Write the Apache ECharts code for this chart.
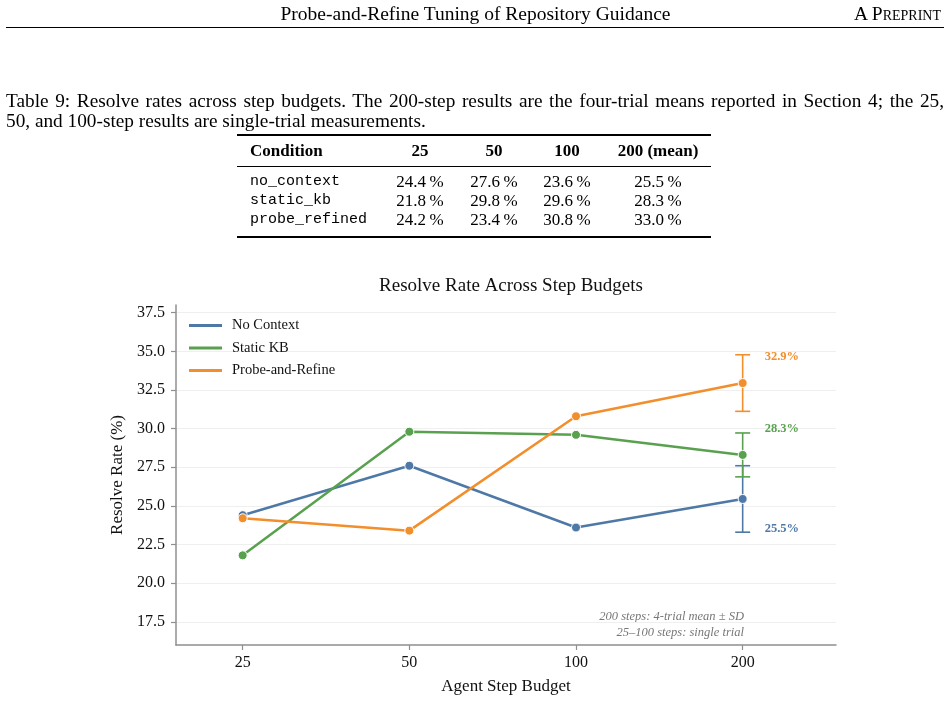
<!DOCTYPE html>
<html>
<head>
<meta charset="utf-8">
<title>Resolve Rate Across Step Budgets</title>
<script src="https://cdn.jsdelivr.net/npm/echarts@6/dist/echarts.min.js"></script>
<style>
  body { margin: 0; width: 951px; height: 702px; position: relative; background: #fff;
         font-family: "Liberation Serif", serif; color: #000; overflow: hidden; }
  #chart { position: absolute; left: 0; top: 0; width: 951px; height: 702px; }
  .runhead { position: absolute; top: 3px; left: 0; width: 951px; text-align: center; font-size: 19.5px; line-height: 22px; }
  .preprint { position: absolute; top: 3px; right: 10px; font-size: 19.5px; line-height: 22px; font-variant: small-caps; }
  .headrule { position: absolute; top: 27px; left: 6px; width: 938px; height: 1px; background: #000; }
  .capline { position: absolute; left: 6px; width: 938px; font-size: 19.3px; line-height: 21px; white-space: nowrap; }
  .capline.just { text-align: justify; text-align-last: justify; white-space: normal; }
  .rule { position: absolute; left: 237px; width: 474px; background: #000; }
  .cell { position: absolute; font-size: 17px; line-height: 20px; white-space: nowrap; }
  .mono { font-family: "Liberation Mono", monospace; font-size: 15px; }
</style>
</head>
<body>
<div id="chart"></div>
<div class="runhead">Probe-and-Refine Tuning of Repository Guidance</div>
<div class="preprint">A Preprint</div>
<div class="headrule"></div>
<div class="capline just" style="top:90px">Table 9: Resolve rates across step budgets. The 200-step results are the four-trial means reported in Section 4; the 25,</div>
<div class="capline" style="top:110px">50, and 100-step results are single-trial measurements.</div>
<div id="table"></div>
<script>
// x categories (agent step budgets)
const budgets = ['25', '50', '100', '200'];
const seriesNames = ['No Context', 'Static KB', 'Probe-and-Refine'];
const colors = ['#4e79a7', '#59a14f', '#f28e2b'];

// values (200 = four-trial mean)
const noContext = [24.4, 27.6, 23.6, 25.45];
const staticKb = [21.8, 29.8, 29.6, 28.3];
const probeRefine = [24.2, 23.4, 30.8, 32.95];
// standard deviation at 200 steps
const sd200 = [2.15, 1.42, 1.83];
const label200 = ['25.5%', '28.3%', '32.9%'];

const yTicks = [17.5, 20.0, 22.5, 25.0, 27.5, 30.0, 32.5, 35.0, 37.5];

// Table 9
const tableHead = ['Condition', '25', '50', '100', '200 (mean)'];
const tableConds = ['no_context', 'static_kb', 'probe_refined'];
const tableNoContext = [24.4, 27.6, 23.6, 25.5];
const tableStaticKb = [21.8, 29.8, 29.6, 28.3];
const tableProbeRefined = [24.2, 23.4, 30.8, 33.0];

// ---- table ----
(function buildTable() {
  const box = document.getElementById('table');
  const colCenters = [420, 494, 567, 658];
  const rowCenters = [151, 182, 201, 220];
  const rows = [tableNoContext, tableStaticKb, tableProbeRefined];
  let html = '';
  html += '<div class="rule" style="top:134px;height:2px"></div>';
  html += '<div class="rule" style="top:166px;height:1px"></div>';
  html += '<div class="rule" style="top:236px;height:2px"></div>';
  tableHead.forEach((h, i) => {
    const top = rowCenters[0] - 10;
    if (i === 0) {
      html += `<div class="cell" style="left:250px;top:${top}px;font-weight:bold">${h}</div>`;
    } else {
      html += `<div class="cell" style="left:${colCenters[i - 1] - 50}px;width:100px;text-align:center;top:${top}px;font-weight:bold">${h}</div>`;
    }
  });
  rows.forEach((vals, r) => {
    const top = rowCenters[r + 1] - 10;
    html += `<div class="cell mono" style="left:250px;top:${top}px">${tableConds[r]}</div>`;
    vals.forEach((v, c) => {
      html += `<div class="cell" style="left:${colCenters[c] - 50}px;width:100px;text-align:center;top:${top}px">${v.toFixed(1)}\u2009%</div>`;
    });
  });
  box.innerHTML = html;
})();

// ---- chart ----
const chart = echarts.init(document.getElementById('chart'));
const serif = '"Liberation Serif", serif';
const lineData = [noContext, staticKb, probeRefine];
const labelOffset = [-1.9, 1.7, 1.7];

function errorBar(idx) {
  const color = colors[idx];
  return {
    type: 'custom',
    name: 'sd' + idx,
    z: 1,
    silent: true,
    data: [[budgets.length - 1, lineData[idx][budgets.length - 1], sd200[idx]]],
    renderItem: function (params, api) {
      const x = api.value(0), m = api.value(1), s = api.value(2);
      const top = api.coord([x, m + s]);
      const bot = api.coord([x, m - s]);
      const lab = api.coord([x, m + labelOffset[idx]]);
      const st = { stroke: color, lineWidth: 1.6 };
      return {
        type: 'group',
        children: [
          { type: 'line', shape: { x1: top[0], y1: top[1], x2: bot[0], y2: bot[1] }, style: st },
          { type: 'line', shape: { x1: top[0] - 7.5, y1: top[1], x2: top[0] + 7.5, y2: top[1] }, style: st },
          { type: 'line', shape: { x1: bot[0] - 7.5, y1: bot[1], x2: bot[0] + 7.5, y2: bot[1] }, style: st },
          { type: 'text', x: lab[0] + 22, y: lab[1],
            style: { text: label200[idx], fill: color, font: 'bold 12.5px ' + serif, align: 'left', verticalAlign: 'middle' } }
        ]
      };
    }
  };
}

const series = [{
  type: 'line',
  name: 'grid',
  z: 0,
  silent: true,
  data: [],
  markLine: {
    z: 0,
    silent: true,
    symbol: ['none', 'none'],
    label: { show: false },
    animation: false,
    lineStyle: { color: '#efefef', width: 1, type: 'solid' },
    data: yTicks.map(v => ({ yAxis: v }))
  }
}];
[0, 1, 2].forEach(i => series.push(errorBar(i)));
seriesNames.forEach((name, i) => {
  series.push({
    type: 'line',
    name: name,
    z: 3,
    data: lineData[i].map((v, j) => [j, v]),
    symbol: 'circle',
    symbolSize: 9,
    lineStyle: { color: colors[i], width: 2.5 },
    itemStyle: { color: colors[i], borderColor: '#fff', borderWidth: 1 },
    emphasis: { disabled: true }
  });
});

chart.setOption({
  animation: false,
  textStyle: { fontFamily: serif },
  title: {
    text: 'Resolve Rate Across Step Budgets',
    left: 506, top: 272, textAlign: 'center',
    textStyle: { fontFamily: serif, fontSize: 19, fontWeight: 'normal', color: '#111' }
  },
  legend: {
    z: 10,
    data: seriesNames,
    orient: 'vertical',
    left: 189, top: 318,
    padding: 0,
    icon: 'rect',
    itemWidth: 33, itemHeight: 3,
    itemGap: 7.5,
    itemStyle: { borderWidth: 0 },
    textStyle: { fontFamily: serif, fontSize: 14.5, color: '#111', lineHeight: 14, padding: [0, 0, 0, 5] }
  },
  grid: { left: 176, right: 115, top: 305, bottom: 57 },
  xAxis: {
    type: 'value',
    min: -0.4, max: 3.56,
    name: 'Agent Step Budget',
    nameLocation: 'middle',
    nameGap: 33,
    nameTextStyle: { fontFamily: serif, fontSize: 17, color: '#111' },
    axisLine: { onZero: false, lineStyle: { color: '#8f8f8f', width: 1.5 } },
    axisTick: { customValues: budgets.map((b, i) => i), length: 5, lineStyle: { color: '#8f8f8f', width: 1.2 } },
    axisLabel: { customValues: budgets.map((b, i) => i), formatter: v => budgets[v], margin: 10,
                 fontFamily: serif, fontSize: 16, color: '#111' },
    splitLine: { show: false }
  },
  yAxis: {
    type: 'value',
    min: 16, max: 38,
    name: 'Resolve Rate (%)',
    nameLocation: 'middle',
    nameGap: 44,
    nameTextStyle: { fontFamily: serif, fontSize: 17, color: '#111' },
    axisLine: { show: true, onZero: false, lineStyle: { color: '#8f8f8f', width: 1.5 } },
    axisTick: { show: true, customValues: yTicks, length: 5, lineStyle: { color: '#8f8f8f', width: 1.2 } },
    axisLabel: { customValues: yTicks, formatter: v => v.toFixed(1), margin: 11,
                 fontFamily: serif, fontSize: 16, color: '#111' },
    splitLine: { show: false }
  },
  graphic: [
    { type: 'text', x: 744, y: 617, silent: true,
      style: { text: '200 steps: 4-trial mean \u00b1 SD', fill: '#777', font: 'italic 12.5px ' + serif, align: 'right', verticalAlign: 'middle' } },
    { type: 'text', x: 744, y: 633, silent: true,
      style: { text: '25\u2013100 steps: single trial', fill: '#777', font: 'italic 12.5px ' + serif, align: 'right', verticalAlign: 'middle' } }
  ],
  series: series
});
</script>
</body>
</html>
